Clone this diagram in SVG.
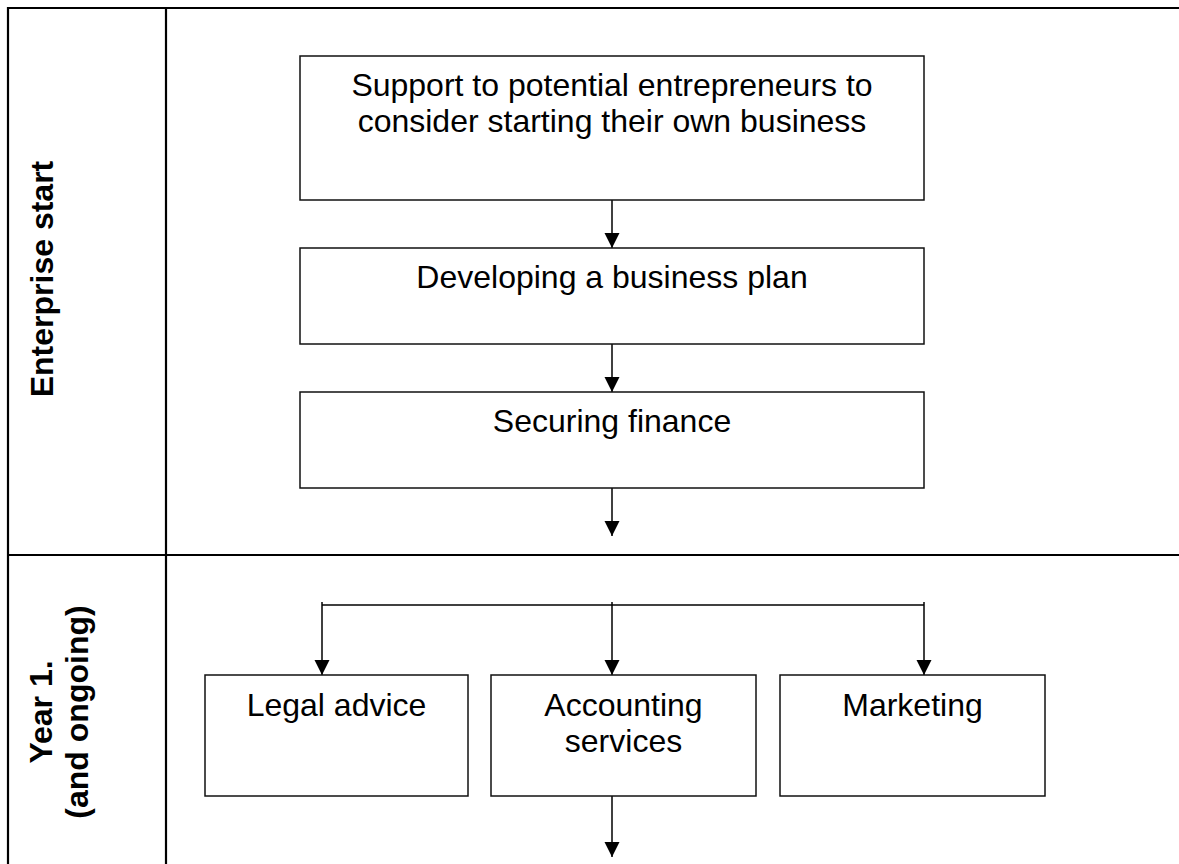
<svg xmlns="http://www.w3.org/2000/svg" width="1179" height="864" viewBox="0 0 1179 864">
  <style>
    .grid { stroke: #000; stroke-width: 2.2; fill: none; }
    .box { fill: #fff; stroke: #111; stroke-width: 1.5; }
    .lbl { font-family: "Liberation Sans", Arial, sans-serif; font-size: 32px; fill: #000; text-anchor: middle; }
    .row { font-family: "Liberation Sans", Arial, sans-serif; font-size: 32px; font-weight: bold; fill: #000; text-anchor: middle; }
    .conn { stroke: #000; stroke-width: 1.5; fill: none; }
  </style>
  <defs>
    <marker id="arrow" markerUnits="userSpaceOnUse" markerWidth="16" markerHeight="16" refX="15" refY="7.5" orient="auto">
      <path d="M0,0 L15,7.5 L0,15 Z" fill="#000"/>
    </marker>
  </defs>
  <rect width="1179" height="864" fill="#fff"/>

  <!-- table frame -->
  <g id="table">
    <line class="grid" x1="8" y1="8" x2="1179" y2="8"/>
    <line class="grid" x1="8" y1="7" x2="8" y2="864"/>
    <line class="grid" x1="166" y1="8" x2="166" y2="864"/>
    <line class="grid" x1="8" y1="555" x2="1179" y2="555"/>
  </g>

  <!-- row headings -->
  <g id="row-enterprise-start">
    <text class="row" transform="translate(53,279) rotate(-90)">Enterprise start</text>
  </g>
  <g id="row-year-one">
    <text class="row" transform="translate(52,712) rotate(-90)">Year 1.</text>
    <text class="row" transform="translate(88,712) rotate(-90)">(and ongoing)</text>
  </g>

  <!-- connectors -->
  <g id="connectors">
    <line class="conn" x1="612" y1="200" x2="612" y2="248" marker-end="url(#arrow)"/>
    <line class="conn" x1="612" y1="344" x2="612" y2="392" marker-end="url(#arrow)"/>
    <line class="conn" x1="612" y1="488" x2="612" y2="536" marker-end="url(#arrow)"/>
    <line class="conn" x1="322" y1="605" x2="924" y2="605"/>
    <line class="conn" x1="322" y1="602" x2="322" y2="675" marker-end="url(#arrow)"/>
    <line class="conn" x1="612" y1="602" x2="612" y2="675" marker-end="url(#arrow)"/>
    <line class="conn" x1="924" y1="602" x2="924" y2="675" marker-end="url(#arrow)"/>
    <line class="conn" x1="612" y1="796" x2="612" y2="857" marker-end="url(#arrow)"/>
  </g>

  <!-- nodes -->
  <g id="node-support">
    <rect class="box" x="300" y="56" width="624" height="144"/>
    <text class="lbl" x="612" y="96">Support to potential entrepreneurs to</text>
    <text class="lbl" x="612" y="132">consider starting their own business</text>
  </g>
  <g id="node-business-plan">
    <rect class="box" x="300" y="248" width="624" height="96"/>
    <text class="lbl" x="612" y="288">Developing a business plan</text>
  </g>
  <g id="node-finance">
    <rect class="box" x="300" y="392" width="624" height="96"/>
    <text class="lbl" x="612" y="432">Securing finance</text>
  </g>
  <g id="node-legal">
    <rect class="box" x="205" y="675" width="263" height="121"/>
    <text class="lbl" x="336.5" y="716">Legal advice</text>
  </g>
  <g id="node-accounting">
    <rect class="box" x="491" y="675" width="265" height="121"/>
    <text class="lbl" x="623.5" y="716">Accounting</text>
    <text class="lbl" x="623.5" y="752">services</text>
  </g>
  <g id="node-marketing">
    <rect class="box" x="780" y="675" width="265" height="121"/>
    <text class="lbl" x="912.5" y="716">Marketing</text>
  </g>
</svg>
